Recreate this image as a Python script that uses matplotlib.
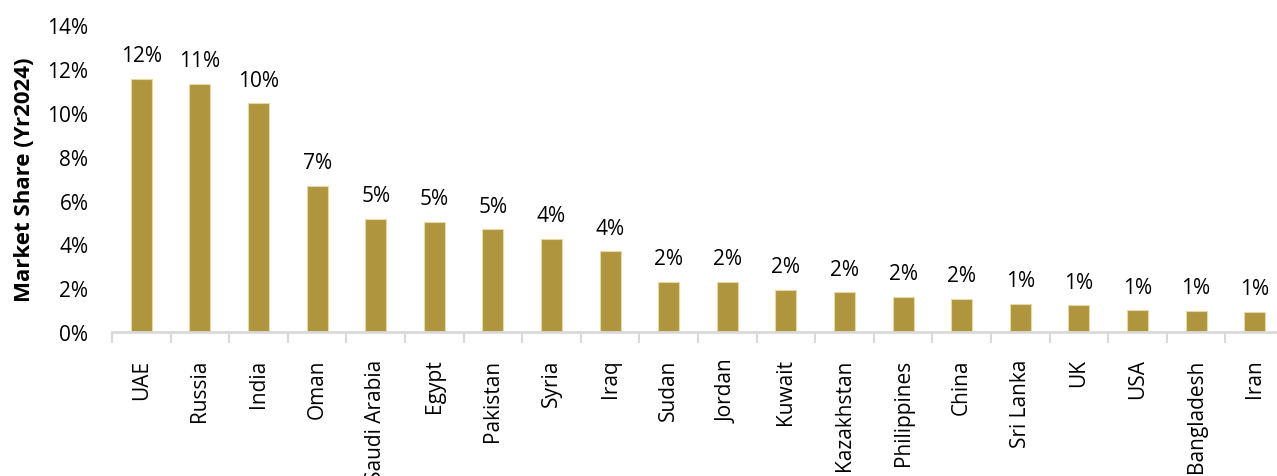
import matplotlib
matplotlib.use("Agg")
import matplotlib.pyplot as plt
import numpy as np
from matplotlib.ticker import PercentFormatter, FixedLocator

countries = ["UAE", "Russia", "India", "Oman", "Saudi Arabia", "Egypt", "Pakistan",
             "Syria", "Iraq", "Sudan", "Jordan", "Kuwait", "Kazakhstan", "Philippines",
             "China", "Sri Lanka", "UK", "USA", "Bangladesh", "Iran"]
share = [11.57, 11.32, 10.44, 6.68, 5.17, 5.04, 4.70, 4.26, 3.68, 2.30,
         2.29, 1.92, 1.81, 1.61, 1.52, 1.29, 1.22, 0.99, 0.97, 0.93]
y_ticks = [0, 2, 4, 6, 8, 10, 12, 14]

plt.rcParams["font.family"] = ["Open Sans", "DejaVu Sans"]

BAR = "#B0953F"
EDGE = "#E6D9A6"
AXIS = "#D9D9D9"

fig = plt.figure(figsize=(12.77, 4.77), dpi=100)
ax = fig.add_axes([0.0877, 0.3019, 0.9178, 0.6430])

x = np.arange(len(countries))
ax.bar(x, share, width=0.36, color=BAR, edgecolor=EDGE, linewidth=0.8)

for xi, v in zip(x, share):
    ax.annotate(f"{v:.0f}%", (xi, v), xytext=(0, 9), textcoords="offset points",
                ha="center", va="bottom", fontsize=15, color="#000000")

ax.set_xlim(-0.5, len(countries) - 0.5)
ax.set_ylim(0, 14)
ax.yaxis.set_major_locator(FixedLocator(y_ticks))
ax.yaxis.set_major_formatter(PercentFormatter(decimals=0))

ax.set_xticks(x)
ax.set_xticklabels(countries, rotation=90, fontsize=15)
ax.set_xticks(np.arange(-0.5, len(countries), 1), minor=True)
ax.tick_params(axis="x", which="major", length=0, pad=19)
ax.tick_params(axis="x", which="minor", length=8, width=1.5, color=AXIS)
ax.tick_params(axis="y", length=0, pad=17, labelsize=15)

for s in ("top", "right", "left"):
    ax.spines[s].set_visible(False)
ax.spines["bottom"].set_color(AXIS)
ax.spines["bottom"].set_linewidth(2)

ax.set_ylabel("Market Share (Yr2024)", fontsize=16, fontweight="bold")
ax.yaxis.set_label_coords(-0.066, 0.5)

fig.savefig("out.png", dpi=100)
